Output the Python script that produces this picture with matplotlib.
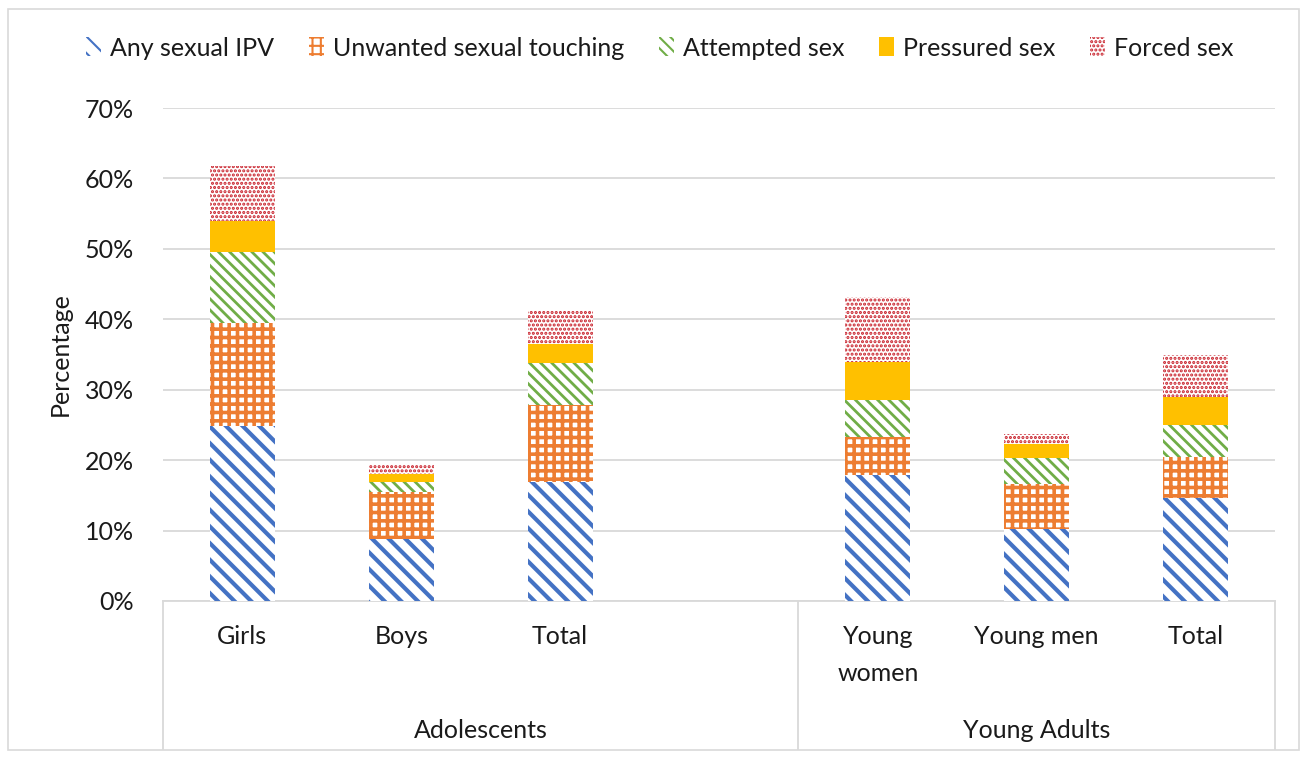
import matplotlib
matplotlib.use("Agg")
import matplotlib.pyplot as plt
from matplotlib.patches import Rectangle, Patch

# ---- data ----
groups = ["Adolescents", "Young Adults"]
group_slots = [4, 3]          # Adolescents has an empty slot at its end
categories = ["Girls", "Boys", "Total", "Young\nwomen", "Young men", "Total"]
group_of = [0, 0, 0, 1, 1, 1]
series = ["Any sexual IPV", "Unwanted sexual touching", "Attempted sex",
          "Pressured sex", "Forced sex"]
any_ipv    = [24.9, 8.8, 16.9, 17.9, 10.2, 14.6]
unwanted   = [14.6, 6.7, 10.9, 5.4, 6.4, 5.9]
attempted  = [10.1, 1.4, 6.0, 5.3, 3.7, 4.5]
pressured  = [4.3, 1.1, 2.7, 5.4, 2.0, 3.9]
forced     = [7.8, 1.5, 4.7, 9.1, 1.4, 6.0]
yticks = [0, 10, 20, 30, 40, 50, 60, 70]

values = [any_ipv, unwanted, attempted, pressured, forced]
colors = ["#4472C4", "#ED7D31", "#70AD47", "#FFC000", "#C8202A"]
hatches = ["\\\\", "++", "\\\\\\", None, "...."]
hatch_lw = [3.0, 2.6, 2.0, 1.0, 1.5]

FONT = "Lato"
FS = 18
TXT = "#1a1a1a"
plt.rcParams['font.family'] = [FONT, 'DejaVu Sans']

W, H = 1305, 757
fig = plt.figure(figsize=(W / 100, H / 100), dpi=100)
fig.patches.append(Rectangle((8 / W, 1 - 750 / H), (1299 - 8) / W, (750 - 9) / H,
                             transform=fig.transFigure, fill=False,
                             edgecolor="#D9D9D9", linewidth=1.2))

x0, x1, ytop, ybot = 163, 1275, 108, 601
ax = fig.add_axes([x0 / W, 1 - ybot / H, (x1 - x0) / W, (ybot - ytop) / H])

# slot positions derived from group layout
slot_start = [0, group_slots[0]]
counts = [0, 0]
positions = []
for g in group_of:
    positions.append(slot_start[g] + counts[g])
    counts[g] += 1
nslots = sum(group_slots)

bottoms = [0.0] * len(categories)
for vals, col, hat, hlw in zip(values, colors, hatches, hatch_lw):
    plt.rcParams['hatch.linewidth'] = hlw
    if hat is None:
        ax.bar(positions, vals, width=0.41, bottom=bottoms, color=col,
               linewidth=0, zorder=3)
    else:
        ax.bar(positions, vals, width=0.41, bottom=bottoms, facecolor="white",
               edgecolor=col, hatch=hat, linewidth=0, zorder=3)
    bottoms = [b + v for b, v in zip(bottoms, vals)]

ax.set_xlim(-0.5, nslots - 0.5)
ax.set_ylim(0, 70)
ax.set_yticks(yticks)
ax.set_yticklabels([f"{t}%" for t in yticks], fontsize=FS, color=TXT)
ax.tick_params(axis="y", length=0, pad=21)
ax.set_xticks([])
ax.grid(axis="y", color="#D9D9D9", linewidth=1.3, zorder=0)
for s in ["left", "right", "top"]:
    ax.spines[s].set_visible(False)
ax.spines["bottom"].set_color("#D9D9D9")
ax.spines["bottom"].set_linewidth(1.3)
ax.set_ylabel("Percentage", fontsize=FS, color=TXT)
ax.yaxis.set_label_coords((72 - x0) / (x1 - x0), 0.5)

# category labels
tr = ax.get_xaxis_transform()
ppx = 1.0 / (ybot - ytop)
for p, c in zip(positions, categories):
    ax.text(p, -(625 - ybot) * ppx, c, transform=tr, ha="center", va="top",
            fontsize=FS, color=TXT, linespacing=1.75)

# group separators and labels
bounds = [0]
for n in group_slots:
    bounds.append(bounds[-1] + n)
for b in bounds:
    ax.plot([b - 0.5, b - 0.5], [0, -(749 - ybot) * ppx], transform=tr,
            color="#D9D9D9", linewidth=1.3, clip_on=False)
for gi, g in enumerate(groups):
    cx = (bounds[gi] + bounds[gi + 1]) / 2 - 0.5
    ax.text(cx, -(730 - ybot) * ppx, g, transform=tr, ha="center", va="center",
            fontsize=FS, color=TXT)

# legend
handles = []
for col, hat, hlw in zip(colors, hatches, hatch_lw):
    plt.rcParams['hatch.linewidth'] = hlw
    if hat is None:
        handles.append(Patch(facecolor=col, edgecolor=col, linewidth=0))
    else:
        handles.append(Patch(facecolor="white", edgecolor=col, hatch=hat, linewidth=0))
fig.legend(handles, series, loc="center", bbox_to_anchor=(660 / W, 1 - 48 / H),
           ncol=5, frameon=False, fontsize=FS, handlelength=0.6, handleheight=0.8,
           handletextpad=0.35, columnspacing=1.4, labelcolor=TXT)

fig.savefig("out.png", dpi=100)
